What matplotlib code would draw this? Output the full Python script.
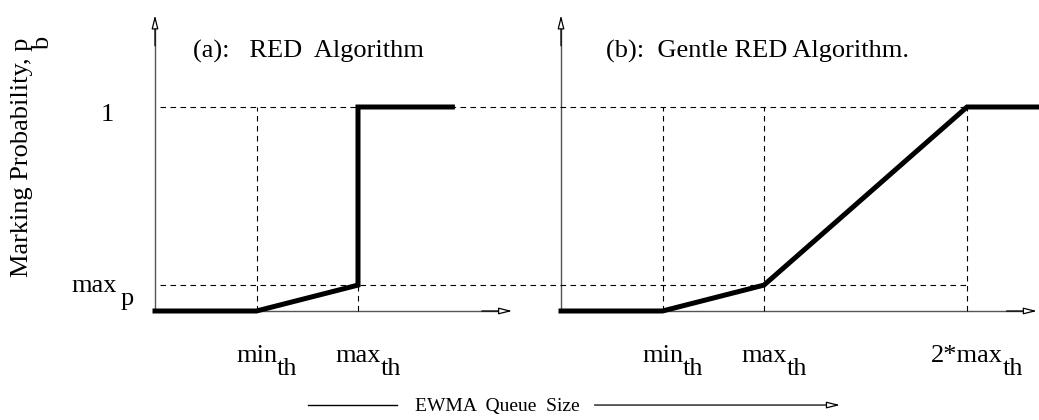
import matplotlib
matplotlib.use("Agg")
import matplotlib.pyplot as plt

plt.rcParams["font.family"] = ["Liberation Serif", "DejaVu Serif"]

# thresholds (in queue-size units) and probabilities
min_th = 1.0
max_th = 2.0
max_p = 0.127
p_one = 1.0

# panel (a): RED
red_x = [0, min_th, max_th, max_th, 2.93]
red_y = [0, 0, max_p, p_one, p_one]

# panel (b): gentle RED, drawn to the right of (a)
off_b = 4.0
gentle_x = [0, min_th, max_th, 2 * max_th, 4.69]
gentle_y = [0, 0, max_p, p_one, p_one]

tick_labels_a = [("min", "th", min_th), ("max", "th", max_th)]
tick_labels_b = [("min", "th", min_th), ("max", "th", max_th), ("2*max", "th", 2 * max_th)]

fig = plt.figure(figsize=(10.39, 4.2), dpi=100)
ax = fig.add_axes([0, 0, 1, 1])
ax.set_xlim(-155 / 101.5, 884 / 101.5)
ax.set_ylim(-109 / 204, 311 / 204)
ax.axis("off")

axis_col = "#555555"
head = dict(arrowstyle="-|>,head_length=0.8,head_width=0.2", fc="white",
            ec="black", lw=0.9, shrinkA=0, shrinkB=0)

# axes with arrows
for x0, xend in [(0, 3.52), (off_b, off_b + 4.69)]:
    ax.plot([x0, x0], [0, 1.40], color=axis_col, lw=1.0, zorder=1)
    ax.annotate("", xy=(x0, 1.45), xytext=(x0, 1.30),
                arrowprops=dict(head, color=axis_col, fc="white"))
    ax.plot([x0, xend - 0.1], [0, 0], color=axis_col, lw=1.0, zorder=1)
    ax.annotate("", xy=(xend, 0), xytext=(xend - 0.3, 0),
                arrowprops=dict(head, color=axis_col, fc="white"))

# dashed guide lines
dash = dict(color="black", lw=0.8, ls=(0, (5, 4)), zorder=1)
ax.plot([0.05, off_b + 2 * max_th], [p_one, p_one], **dash)
ax.plot([0.05, off_b + 2 * max_th], [max_p, max_p], **dash)
ax.plot([min_th, min_th], [0, p_one], **dash)
ax.plot([max_th, max_th], [0, max_p], **dash)
for xv in [min_th, max_th, 2 * max_th]:
    ax.plot([off_b + xv, off_b + xv], [0, p_one], **dash)

# curves
ax.plot(red_x, red_y, color="black", lw=3.6, solid_joinstyle="miter", zorder=3)
ax.plot([off_b + x for x in gentle_x], gentle_y, color="black", lw=3.6,
        solid_joinstyle="miter", zorder=3)

fs = 19

def sub_label(x, y, y_sub, base, sub):
    t = ax.text(x, y, base, fontsize=fs, ha="center", va="baseline")
    ax.annotate(sub, xy=(1, y_sub), xycoords=(t, "data"), fontsize=fs,
                ha="left", va="baseline")

for base, sub, xv in tick_labels_a:
    sub_label(xv, -0.25, -0.314, base, sub)
for base, sub, xv in tick_labels_b:
    sub_label(off_b + xv, -0.25, -0.314, base, sub)

# y tick labels
ax.text(-0.40, 0.93, "1", fontsize=fs, ha="right", va="baseline")
ax.text(-0.374, 0.093, "max", fontsize=fs, ha="right", va="baseline")
ax.text(-0.34, 0.03, "p", fontsize=fs, ha="left", va="baseline")

# titles
ax.text(0.37, 1.24, "(a):   RED  Algorithm", fontsize=fs, ha="left", va="baseline")
ax.text(off_b + 0.44, 1.24, "(b):  Gentle RED Algorithm.", fontsize=fs,
        ha="left", va="baseline")

# y axis label
ax.text(-1.31, 0.755, "Marking Probability, p", fontsize=fs, rotation=90,
        ha="center", va="center")
ax.text(-1.10, 1.31, "b", fontsize=fs, rotation=90, ha="center", va="center")

# x axis label with arrows
ax.plot([1.51, 2.38], [-0.461, -0.461], color="black", lw=1.0)
ax.text(3.37, -0.49, "EWMA  Queue  Size", fontsize=14, ha="center", va="baseline")
ax.annotate("", xy=(6.75, -0.461), xytext=(4.33, -0.461),
            arrowprops=dict(head, color="black", fc="white"))

fig.savefig("out.png", dpi=100)
